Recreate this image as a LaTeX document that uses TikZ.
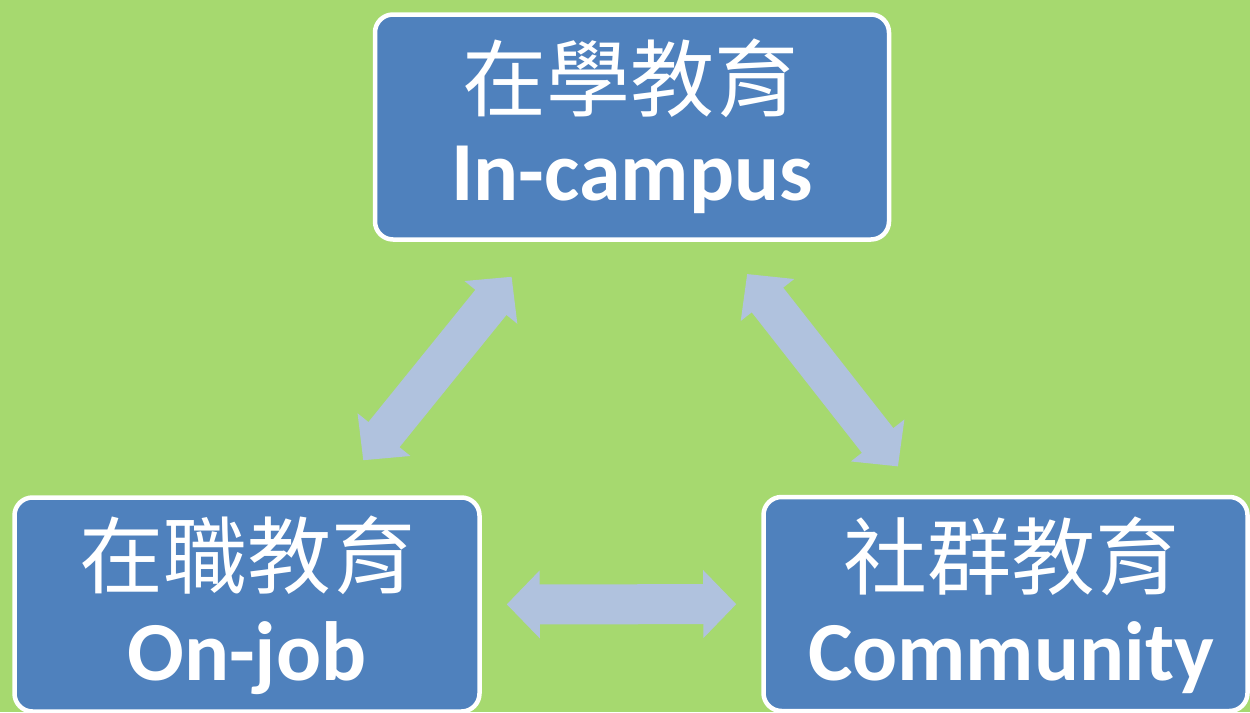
\documentclass[tikz,border=0pt]{standalone}
\usepackage{fontspec}
\setsansfont{Carlito}
\newfontfamily\cjkfont{Noto Sans CJK TC}
\usetikzlibrary{arrows.meta}

\definecolor{pageGreen}{HTML}{A6D96F}
\definecolor{boxBlue}{HTML}{4F81BD}
\definecolor{arrowBlue}{HTML}{B0C2DE}

\tikzset{
    eduBox/.style={draw=white, fill=boxBlue, line width=4.5pt, rounded corners=18pt, inner sep=0pt},
    zhLabel/.style={text=white, anchor=base, inner sep=0pt, font=\cjkfont\fontsize{84}{84}\selectfont},
    enLabel/.style={text=white, anchor=base, inner sep=0pt, font=\sffamily\bfseries\fontsize{84}{84}\selectfont},
    linkArrow/.style={arrowBlue, line width=40pt, <->, >={Triangle[width=66pt,length=33pt]}}
}

\begin{document}
\begin{tikzpicture}[x=1pt,y=-1pt]
    % Page
    \useasboundingbox (0,0) rectangle (1250,712);
    \fill[pageGreen] (0,0) rectangle (1250,712);

    % Boxes
    \node[eduBox, minimum width=514pt, minimum height=225pt] (campus) at (632,127) {};
    \node[eduBox, minimum width=465pt, minimum height=214pt] (onjob) at (247,604.5) {};
    \node[eduBox, minimum width=484pt, minimum height=214pt] (community) at (1005.5,604) {};

    % Labels
    \node[zhLabel] (campusZh) at (630,110) {在學教育};
    \node[enLabel] (campusEn) at (632,200) {In-campus};
    \node[zhLabel] (onjobZh) at (247,587) {在職教育};
    \node[enLabel] (onjobEn) at (247,680) {On-job};
    \node[zhLabel] (communityZh) at (1011,588) {社群教育};
    \node[enLabel] (communityEn) at (1011,680) {Community};

    % Links
    \draw[linkArrow, shorten <=45pt, shorten >=45pt] (campus) -- (onjob);
    \draw[linkArrow, shorten <=41pt, shorten >=36pt] (campus) -- (community);
    \draw[linkArrow, shorten <=25pt, shorten >=25pt] (onjob) -- (community);
\end{tikzpicture}
\end{document}
